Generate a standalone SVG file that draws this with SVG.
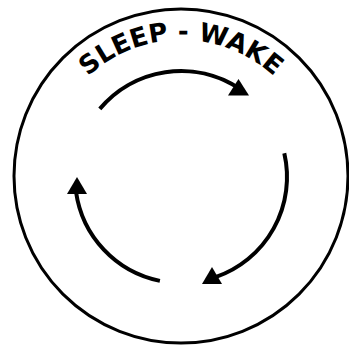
<svg xmlns="http://www.w3.org/2000/svg" width="349" height="347" viewBox="0 0 349 347">
  <style>
    .ring { fill: none; stroke: #000; stroke-width: 3; }
    .arc { fill: none; stroke: #000; stroke-width: 4; stroke-linecap: butt; }
    .head { fill: #000; stroke: none; }
    .label { font-family: "DejaVu Sans", Verdana, sans-serif; font-weight: bold; font-size: 26px; fill: #000; }
  </style>
  <defs>
    <path id="labelPath" d="M 44 177 A 137 137 0 0 1 318 177" fill="none"/>
  </defs>
  <rect width="349" height="347" fill="#fff"/>
  <g id="cycle">
    <circle class="ring" cx="181" cy="176" r="167"/>
  </g>
  <g id="title">
    <text class="label"><textPath href="#labelPath" startOffset="50%" text-anchor="middle">SLEEP - WAKE</textPath></text>
  </g>
  <g id="connectors">
    <path class="arc" d="M 99.8 108.9 A 106 106 0 0 1 238.7 88.1"/>
    <polygon class="head" points="238.5,79 228,95.5 249,95.5"/>
    <path class="arc" d="M 284.3 153.2 A 106 106 0 0 1 215.5 277.2"/>
    <polygon class="head" points="212,267 202,284 222,284"/>
    <path class="arc" d="M 159.9 280.9 A 106 106 0 0 1 76 191.8"/>
    <polygon class="head" points="77,177 67,194 87,194"/>
  </g>
</svg>
